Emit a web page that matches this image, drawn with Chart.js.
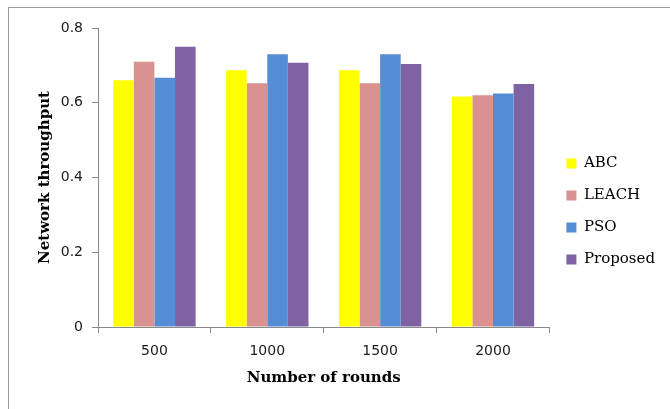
<!DOCTYPE html>
<html>
<head>
<meta charset="utf-8">
<script src="https://cdn.jsdelivr.net/npm/chart.js@4.4.1/dist/chart.umd.min.js"></script>
<style>
  html, body { margin: 0; padding: 0; background: #ffffff; }
  #wrap { width: 670px; height: 409px; position: relative; }
</style>
</head>
<body>
<div id="wrap"><canvas id="c" width="670" height="409"></canvas></div>
<script>
// Network throughput per protocol, by number of rounds
const rounds = ['500', '1000', '1500', '2000'];
const abc = [0.66, 0.687, 0.687, 0.617];
const leach = [0.71, 0.652, 0.652, 0.62];
const pso = [0.667, 0.73, 0.73, 0.625];
const proposed = [0.75, 0.707, 0.704, 0.65];
const yTicks = [0, 0.2, 0.4, 0.6, 0.8];

const axisGray = '#8a8a8a';
const serif = '"DejaVu Serif", "Liberation Serif", serif';
const sans = '"DejaVu Sans", sans-serif';

// thin outer frame around the figure
const framePlugin = {
  id: 'frame',
  beforeDraw(chart) {
    const ctx = chart.ctx;
    ctx.save();
    ctx.fillStyle = '#ffffff';
    ctx.fillRect(0, 0, chart.width, chart.height);
    ctx.strokeStyle = '#9a9a9a';
    ctx.lineWidth = 1;
    ctx.strokeRect(8.5, 7.5, 720, 480);
    ctx.restore();
  }
};

new Chart(document.getElementById('c'), {
  type: 'bar',
  data: {
    labels: rounds,
    datasets: [
      { label: 'ABC', data: abc, backgroundColor: '#ffff00' },
      { label: 'LEACH', data: leach, backgroundColor: '#d9928f' },
      { label: 'PSO', data: pso, backgroundColor: '#548dd5' },
      { label: 'Proposed', data: proposed, backgroundColor: '#7f62a1' }
    ]
  },
  options: {
    responsive: false,
    animation: false,
    events: [],
    layout: { padding: { left: 36, top: 28, right: 5, bottom: 14 } },
    datasets: { bar: { categoryPercentage: 0.73, barPercentage: 1.0, borderWidth: 0 } },
    plugins: {
      tooltip: { enabled: false },
      legend: {
        position: 'right',
        align: 'center',
        labels: {
          boxWidth: 10,
          boxHeight: 10,
          padding: 17,
          color: '#000000',
          font: { family: serif, size: 15 }
        }
      }
    },
    scales: {
      x: {
        afterFit(scale) { scale.height = 68; },
        grid: { display: true, drawOnChartArea: false, drawTicks: true, tickLength: 6, color: axisGray, offset: true },
        border: { display: true, color: axisGray, width: 1 },
        ticks: { color: '#1a1a1a', padding: 10, font: { family: sans, size: 14 } },
        title: {
          display: true,
          text: 'Number of rounds',
          color: '#000000',
          padding: { top: 0, bottom: 8 },
          font: { family: serif, size: 15, weight: 'bold' }
        }
      },
      y: {
        min: 0,
        max: 0.8,
        afterFit(scale) { scale.width = 62; },
        afterBuildTicks(scale) { scale.ticks = yTicks.map(v => ({ value: v })); },
        grid: { display: true, drawOnChartArea: false, drawTicks: true, tickLength: 6, color: axisGray },
        border: { display: true, color: axisGray, width: 1 },
        ticks: { color: '#1a1a1a', padding: 9, font: { family: sans, size: 14 } },
        title: {
          display: true,
          text: 'Network throughput',
          color: '#000000',
          padding: { top: 0, bottom: 0 },
          font: { family: serif, size: 15, weight: 'bold' }
        }
      }
    }
  },
  plugins: [framePlugin]
});
</script>
</body>
</html>
